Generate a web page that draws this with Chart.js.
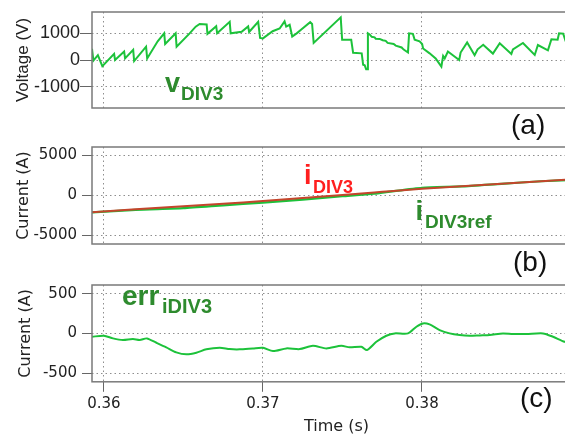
<!DOCTYPE html>
<html>
<head>
<meta charset="utf-8">
<script src="https://cdn.jsdelivr.net/npm/chart.js@4.4.1/dist/chart.umd.min.js"></script>
<style>
  html, body { margin: 0; padding: 0; background: #fff; overflow: hidden; }
  body { width: 565px; height: 438px; position: relative; }
  canvas { position: absolute; left: 0; }
</style>
</head>
<body>
<canvas id="chartA" width="584" height="140" style="top:0px"></canvas>
<canvas id="chartB" width="584" height="140" style="top:140px"></canvas>
<canvas id="chartC" width="584" height="158" style="top:280px"></canvas>
<script>
// tick values
const timeTicks = [0.36, 0.37, 0.38];
const voltTicks = [-1000, 0, 1000];
const currTicks = [-5000, 0, 5000];
const errTicks = [-500, 0, 500];

// (a) converter voltage v_DIV3
const timeA = [0.35925, 0.35934, 0.35962, 0.35990, 0.36064, 0.36070, 0.36127, 0.36133, 0.36184, 0.36190,
  0.36265, 0.36272, 0.36338, 0.36379, 0.36385, 0.36451, 0.36457, 0.36539, 0.36577, 0.36602,
  0.36646, 0.36651, 0.36706, 0.36712, 0.36791, 0.36797, 0.36866, 0.36907, 0.36913, 0.36970,
  0.36982, 0.37000, 0.37061, 0.37105, 0.37136, 0.37146, 0.37168, 0.37184, 0.37212, 0.37243,
  0.37297, 0.37309, 0.37319, 0.37489, 0.37498, 0.37555, 0.37567, 0.37621, 0.37630, 0.37640,
  0.37649, 0.37655, 0.37660, 0.37671, 0.37684, 0.37702, 0.37709, 0.37734, 0.37753, 0.37772,
  0.37784, 0.37822, 0.37835, 0.37872, 0.37885, 0.37912, 0.37919, 0.37943, 0.37954, 0.37985,
  0.38001, 0.38007, 0.38048, 0.38086, 0.38122, 0.38133, 0.38143, 0.38163, 0.38234, 0.38243,
  0.38284, 0.38331, 0.38350, 0.38385, 0.38446, 0.38489, 0.38562, 0.38572, 0.38635, 0.38709,
  0.38729, 0.38792, 0.38814, 0.38853, 0.38862, 0.38888, 0.38904];
const voltA = [420, -20, 180, -230, 230, 0, 320, 60, 380, -40,
  500, 60, 700, 1000, 600, 1000, 500, 1000, 1250, 1350,
  1330, 980, 1270, 1000, 1430, 1000, 1060, 1260, 1050, 1430,
  830, 810, 1080, 1180, 1450, 1250, 1320, 880, 1000, 1150,
  1420, 1350, 640, 1600, 760, 760, 270, 250, -180, -200,
  -350, -350, 1000, 960, 870, 850, 800, 790, 740, 720,
  640, 600, 540, 470, 390, 280, 1000, 980, 760, 700,
  600, 430, 250, 60, -250, 150, 60, 320, 0, 280,
  660, 180, 400, 570, 240, 630, 230, 400, 640, 190,
  560, 360, 780, 760, 1000, 990, 700];

// (b) current and reference current
const timeB = [0.35925, 0.362, 0.365, 0.3675, 0.37, 0.3725, 0.375, 0.377, 0.378, 0.38, 0.3825, 0.385, 0.3875, 0.39];
const currI = [-2075, -1720, -1340, -1020, -700, -315, 70, 380, 530, 840, 1155, 1470, 1780, 2090];
const currIref = [-2115, -1785, -1580, -1220, -880, -505, -95, 230, 490, 960, 1130, 1460, 1775, 1980];

// (c) current error
const timeC = [0.35925, 0.36000, 0.36057, 0.36119, 0.36182, 0.36225, 0.36270, 0.36330, 0.36392, 0.36455,
  0.36518, 0.36581, 0.36644, 0.36728, 0.36791, 0.36853, 0.36937, 0.37000, 0.37063, 0.37147,
  0.37231, 0.37314, 0.37399, 0.37493, 0.37545, 0.37619, 0.37654, 0.37713, 0.37776, 0.37828,
  0.37912, 0.37965, 0.38006, 0.38048, 0.38111, 0.38174, 0.38237, 0.38300, 0.38363, 0.38426,
  0.38509, 0.38572, 0.38656, 0.38761, 0.38824, 0.38897, 0.39];
const errI = [-42, -30, -63, -84, -72, -84, -63, -118, -176, -239,
  -264, -244, -201, -181, -198, -201, -189, -181, -223, -189,
  -198, -156, -189, -156, -176, -168, -210, -106, -30, 0,
  0, 84, 126, 113, 42, 0, -21, -30, -25, -21,
  0, -8, -8, 0, -42, -106, -150];

const GREEN = "#1cc23a";
const RED = "#c4452c";
const LABEL_GREEN = "#2e8b2e";
const LABEL_RED = "#ff1f1f";
const GRID = "#8e8e8e";
const TEXT = "#222";
const DOTS = [1.5, 3];

Chart.defaults.font.family = "Liberation Sans";
Chart.defaults.animation = false;

// annotation text per canvas
const notesById = {
  chartA: [
    { text: "v", x: 165, y: 92, font: "bold 27px 'Liberation Sans'", color: LABEL_GREEN },
    { text: "DIV3", x: 181, y: 99.5, font: "bold 19px 'Liberation Sans'", color: LABEL_GREEN },
    { text: "(a)", x: 511, y: 134, font: "28px 'Liberation Sans'", color: "#111" },
  ],
  chartB: [
    { text: "i", x: 304, y: 43.5, font: "bold 27px 'Liberation Sans'", color: LABEL_RED },
    { text: "DIV3", x: 313, y: 52.5, font: "bold 18px 'Liberation Sans'", color: LABEL_RED },
    { text: "i", x: 415.5, y: 80, font: "bold 27px 'Liberation Sans'", color: LABEL_GREEN },
    { text: "DIV3ref", x: 425, y: 87.5, font: "bold 19px 'Liberation Sans'", color: LABEL_GREEN },
    { text: "(b)", x: 513, y: 131, font: "28px 'Liberation Sans'", color: "#111" },
  ],
  chartC: [
    { text: "err", x: 122, y: 25, font: "bold 28px 'Liberation Sans'", color: LABEL_GREEN },
    { text: "iDIV3", x: 162, y: 32.5, font: "bold 20px 'Liberation Sans'", color: LABEL_GREEN },
    { text: "(c)", x: 520, y: 127, font: "28px 'Liberation Sans'", color: "#111" },
  ],
};

const frame = {
  id: "frame",
  afterDatasetsDraw(chart) {
    const { ctx, chartArea: a } = chart;
    ctx.save();
    ctx.strokeStyle = "#7a7a7a";
    ctx.lineWidth = 1.5;
    ctx.strokeRect(a.left, a.top, a.right - a.left, a.bottom - a.top);
    ctx.restore();
  },
};

const notes = {
  id: "notes",
  afterDraw(chart) {
    const ctx = chart.ctx;
    ctx.save();
    ctx.textBaseline = "alphabetic";
    (notesById[chart.canvas.id] || []).forEach((n) => {
      ctx.font = n.font;
      ctx.fillStyle = n.color;
      ctx.fillText(n.text, n.x, n.y);
    });
    ctx.restore();
  },
};

function pts(xs, ys) {
  return xs.map((x, i) => ({ x: x, y: ys[i] }));
}

function xAxis(showLabels) {
  const axis = {
    type: "linear",
    min: 0.35925,
    max: 0.39,
    afterBuildTicks: (s) => { s.ticks = timeTicks.map((v) => ({ value: v })); },
    grid: { color: GRID, drawTicks: showLabels, tickLength: 10, tickColor: "#666", tickBorderDash: [] },
    border: { display: false, dash: DOTS },
    ticks: { display: showLabels },
  };
  if (showLabels) {
    axis.ticks = {
      display: true, padding: 3, color: TEXT,
      font: { family: "DejaVu Sans", size: 15 },
      callback: (v) => String(v),
    };
    axis.title = {
      display: true, text: "Time (s)", color: TEXT,
      font: { family: "DejaVu Sans", size: 16 },
      padding: { top: 1, bottom: 2 },
    };
    axis.afterFit = (s) => { s.paddingLeft = 0; s.paddingRight = 0; };
  } else {
    axis.afterFit = (s) => { s.height = 0; s.paddingLeft = 0; s.paddingRight = 0; };
  }
  return axis;
}

function yAxis(min, max, tickVals, title, family, size, titleSize, tickLen, pad, titlePad) {
  return {
    min: min,
    max: max,
    afterBuildTicks: (s) => { s.ticks = tickVals.map((v) => ({ value: v })); },
    ticks: { font: { family: family, size: size }, color: TEXT, padding: pad, callback: (v) => String(v) },
    grid: { color: GRID, tickColor: "#666", tickLength: tickLen, tickBorderDash: [] },
    border: { display: false, dash: DOTS },
    title: { display: true, text: title, color: TEXT, font: { family: family, size: titleSize }, padding: { top: titlePad, bottom: 0 } },
    afterFit: (s) => { s.width = 92; s.paddingTop = 0; s.paddingBottom = 0; },
  };
}

function lineSet(label, xs, ys, color, width, tension) {
  return {
    label: label,
    data: pts(xs, ys),
    borderColor: color,
    backgroundColor: color,
    borderWidth: width,
    pointRadius: 0,
    tension: tension,
    fill: false,
  };
}

function baseOptions(pad, x, y) {
  return {
    responsive: false,
    animation: false,
    layout: { padding: pad },
    plugins: { legend: { display: false }, tooltip: { enabled: false } },
    scales: { x: x, y: y },
  };
}

new Chart(document.getElementById("chartA").getContext("2d"), {
  type: "line",
  data: { datasets: [lineSet("vDIV3", timeA, voltA, GREEN, 2, 0)] },
  options: baseOptions({ top: 12, left: 0, right: 3, bottom: 32 }, xAxis(false),
    yAxis(-1800, 1800, voltTicks, "Voltage (V)", "Liberation Sans", 18, 17, 12, 0, 13)),
  plugins: [frame, notes],
});

new Chart(document.getElementById("chartB").getContext("2d"), {
  type: "line",
  data: {
    datasets: [
      lineSet("iDIV3", timeB, currI, RED, 2, 0.2),
      lineSet("iDIV3ref", timeB, currIref, GREEN, 2.2, 0.2),
    ],
  },
  options: baseOptions({ top: 7, left: 0, right: 3, bottom: 36 }, xAxis(false),
    yAxis(-6050, 6050, currTicks, "Current (A)", "DejaVu Sans", 15, 16, 10, 5, 14)),
  plugins: [frame, notes],
});

new Chart(document.getElementById("chartC").getContext("2d"), {
  type: "line",
  data: { datasets: [lineSet("erriDIV3", timeC, errI, GREEN, 2, 0.25)] },
  options: baseOptions({ top: 5, left: 0, right: 3, bottom: 0 }, xAxis(true),
    yAxis(-610, 610, errTicks, "Current (A)", "DejaVu Sans", 15, 16, 10, 5, 16)),
  plugins: [frame, notes],
});
</script>
</body>
</html>
